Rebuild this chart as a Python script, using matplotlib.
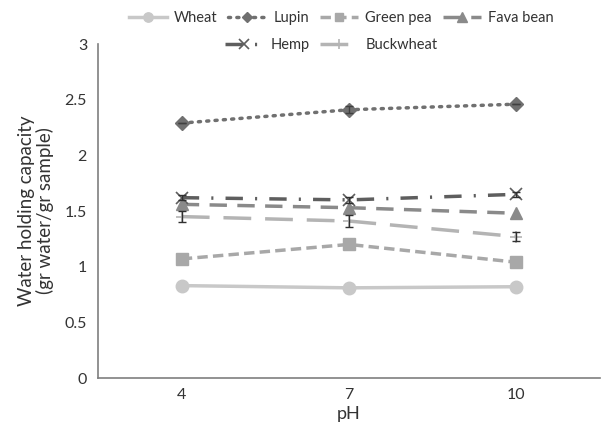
import numpy as np
import matplotlib.pyplot as plt

plt.rcParams['font.family'] = ['Lato', 'DejaVu Sans']

# pH categories
ph = ["4", "7", "10"]

# water holding capacity per flour
wheat = [0.83, 0.81, 0.82]
lupin = [2.29, 2.41, 2.46]
green_pea = [1.07, 1.20, 1.04]
fava_bean = [1.56, 1.53, 1.48]
hemp = [1.62, 1.60, 1.65]
buckwheat = [1.45, 1.41, 1.27]

# small error bars
err_lupin = [0.0, 0.03, 0.0]
err_hemp = [0.02, 0.03, 0.02]
err_buck = [0.05, 0.05, 0.04]

x = np.arange(len(ph))

fig = plt.figure(figsize=(6.06, 4.32), dpi=100)
ax = fig.add_axes([0.162, 0.125, 0.828, 0.773])

h_wheat, = ax.plot(x, wheat, color="#c8c8c8", lw=2.5, marker="o", ms=9,
                   label="Wheat")
h_lupin, = ax.plot(x, lupin, color="#707070", lw=2.5, ls=(0, (0.6, 1.8)),
                   dash_capstyle="round", marker="D", ms=7, label="Lupin")
ax.errorbar(x, lupin, yerr=err_lupin, fmt="none", ecolor="#404040",
            elinewidth=1, capsize=3)
h_pea, = ax.plot(x, green_pea, color="#a8a8a8", lw=2.5, ls=(0, (3, 1.5)),
                 marker="s", ms=8, label="Green pea")
h_fava, = ax.plot(x, fava_bean, color="#8a8a8a", lw=2.5, ls=(0, (5, 3)),
                  marker="^", ms=9, label="Fava bean")
h_hemp, = ax.plot(x, hemp, color="#5e5e5e", lw=2.5,
                  ls=(0, (5, 3.5, 0.6, 3.5)), marker="x", ms=9, mew=1.2,
                  label="Hemp")
ax.errorbar(x, hemp, yerr=err_hemp, fmt="none", ecolor="#303030",
            elinewidth=1, capsize=3)
h_buck, = ax.plot(x, buckwheat, color="#b4b4b4", lw=2.5, ls=(0, (8, 4)),
                  marker="+", ms=9, mew=1.2, label="Buckwheat")
ax.errorbar(x, buckwheat, yerr=err_buck, fmt="none", ecolor="#303030",
            elinewidth=1, capsize=3)

ax.set_xlim(-0.5, 2.5)
ax.set_ylim(0, 3)
ax.set_xticks(x)
ax.set_xticklabels(ph)
ax.set_yticks([0, 0.5, 1, 1.5, 2, 2.5, 3])
ax.set_yticklabels(["0", "0.5", "1", "1.5", "2", "2.5", "3"])
ax.tick_params(length=0, labelsize=11.5, pad=8, colors="#333333")
ax.tick_params(axis="x", pad=7)

for side in ["top", "right"]:
    ax.spines[side].set_visible(False)
for side in ["left", "bottom"]:
    ax.spines[side].set_color("#7f7f7f")
    ax.spines[side].set_linewidth(1.2)

ax.set_xlabel("pH", fontsize=13, color="#333333", labelpad=3)
ax.set_ylabel("Water holding capacity\n(gr water/gr sample)", fontsize=13.5,
              color="#333333", labelpad=8, linespacing=1.05)

# two legend rows, each centred like the original
leg_kw = dict(frameon=False, fontsize=10.5, handlelength=2.6,
              columnspacing=0.75, handletextpad=0.5, markerscale=0.75,
              labelcolor="#333333")
fig.legend(handles=[h_wheat, h_lupin, h_pea, h_fava], ncol=4,
           loc="center", bbox_to_anchor=(0.563, 0.958), **leg_kw)
fig.legend(handles=[h_hemp, h_buck], ncol=2, loc="center",
           bbox_to_anchor=(0.547, 0.896), **leg_kw)

fig.savefig("out.png", dpi=100)
